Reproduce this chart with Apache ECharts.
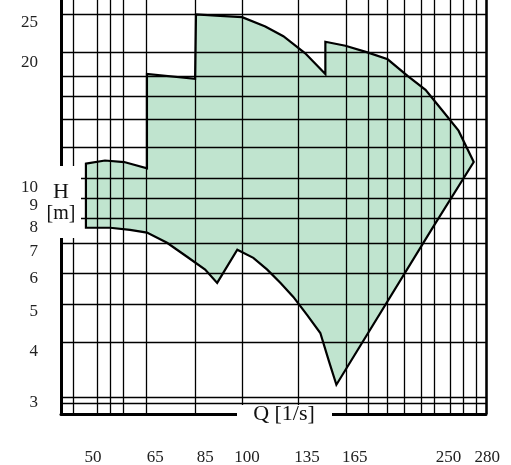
<!DOCTYPE html>
<html><head><meta charset="utf-8">
<script src="https://cdn.jsdelivr.net/npm/echarts@6/dist/echarts.min.js"></script>
<style>html,body{margin:0;padding:0;background:#fff}#c{width:511px;height:465px}</style>
</head><body><div id="c"></div>
<script>
const xTickLabels = [50, 65, 85, 100, 135, 165, 250, 280];
const xTickAnchors = [50, 65.6, 81.6, 98.0, 127.3, 156.7, 236, 279.5];
const yTickLabels = [3, 4, 5, 6, 7, 8, 9, 10, 20, 25];
const xGrid = [45.8, 50.9, 54.0, 57.2, 63.0, 78.1, 96.0, 122.7, 151, 166, 181, 195, 210, 222, 238, 252, 266, 278];
const yGrid = [3.0, 3.1, 4.2, 5.2, 6.2, 7.3, 8.4, 9.4, 10.5, 12.5, 14.6, 16.6, 18.6, 21.2, 26.3];
const regionQ = [48.5, 52.7, 57.3, 63.3, 63.3, 78.1, 78.4, 87.1, 95.9, 106.1, 114.8, 126.3, 137.9, 137.9, 150.5, 165.7, 181, 197.4, 213.5, 231, 246.6, 263.5,
                 220.6, 144.7, 140.2, 134.9, 127.3, 119.9, 113.4, 107.0, 100.7, 93.9, 86.0, 81.6, 75.4, 69.1, 63.3, 58.8, 53.9, 48.5];
const regionH = [11.4, 11.6, 11.5, 11.1, 18.8, 18.3, 26.2, 26.0, 25.8, 24.5, 23.2, 21.1, 18.8, 22.5, 22.0, 21.2, 20.4, 18.6, 17.2, 15.2, 13.7, 11.5,
                 8.0, 3.32, 3.77, 4.43, 4.90, 5.42, 5.86, 6.31, 6.74, 7.05, 5.86, 6.31, 6.78, 7.33, 7.76, 7.88, 7.97, 7.97];

const X_MIN = 43.5, X_MAX = 278, Y_MIN = 2.82, Y_MAX = 28.4;
const font = '"Liberation Serif","DejaVu Serif",serif';
const chart = echarts.init(document.getElementById('c'));
const black = {color:'#000', width:1.3, type:'solid'};
chart.setOption({
  animation:false,
  grid:{left:61, right:25, top:0, bottom:51},
  xAxis:{type:'log', min:X_MIN, max:X_MAX, axisLabel:{show:false}, axisTick:{show:false}, splitLine:{show:false},
    axisLine:{show:true, lineStyle:{color:'#000', width:3}}},
  yAxis:{type:'log', min:Y_MIN, max:Y_MAX, axisLabel:{show:false}, axisTick:{show:false}, splitLine:{show:false},
    axisLine:{show:true, lineStyle:{color:'#000', width:3}}},
  series:[
    {type:'custom', clip:false, z:2,
      data:[0],
      renderItem:(p, api)=>{
        const pts = regionQ.map((q,i)=>api.coord([q, regionH[i]]));
        return {type:'polygon', shape:{points:pts},
          style:{fill:'rgba(150,210,175,0.6)', stroke:'#000', lineWidth:2.2, lineJoin:'miter'}};
      }},
    {type:'line', data:[], z:3,
      markLine:{silent:true, symbol:'none', label:{show:false}, lineStyle:black,
        data:[...xGrid.map(v=>({xAxis:v})), ...yGrid.map(v=>({yAxis:v})),
              {xAxis:X_MAX, lineStyle:{color:'#000', width:2.5, type:'solid'}}]}},
    {type:'custom', clip:false, z:5, data:xTickLabels,
      renderItem:(p, api)=>{
        const c = api.coord([xTickAnchors[p.dataIndex], Y_MIN]);
        return {type:'text', x:c[0], y:c[1]+44, style:{text:String(xTickLabels[p.dataIndex]), font:'17px '+font, fill:'#222', align:'center', verticalAlign:'middle'}};
      }},
    {type:'custom', clip:false, z:5, data:yTickLabels,
      renderItem:(p, api)=>{
        const c = api.coord([X_MIN, yTickLabels[p.dataIndex]]);
        return {type:'text', x:c[0]-23, y:c[1], style:{text:String(yTickLabels[p.dataIndex]), font:'17px '+font, fill:'#222', align:'right', verticalAlign:'middle'}};
      }}
  ],
  graphic:[
    {type:'rect', shape:{x:55, y:166, width:26, height:72}, style:{fill:'#fff'}, z:100},
    {type:'text', x:61, y:192, style:{text:'H', font:'22px '+font, fill:'#111', align:'center', verticalAlign:'middle'}, z:101},
    {type:'text', x:61, y:214, style:{text:'[m]', font:'20px '+font, fill:'#111', align:'center', verticalAlign:'middle'}, z:101},
    {type:'rect', shape:{x:237, y:405, width:95, height:25}, style:{fill:'#fff'}, z:100},
    {type:'text', x:284, y:414, style:{text:'Q [1/s]', font:'22px '+font, fill:'#111', align:'center', verticalAlign:'middle'}, z:101}
  ]
});
</script></body></html>
